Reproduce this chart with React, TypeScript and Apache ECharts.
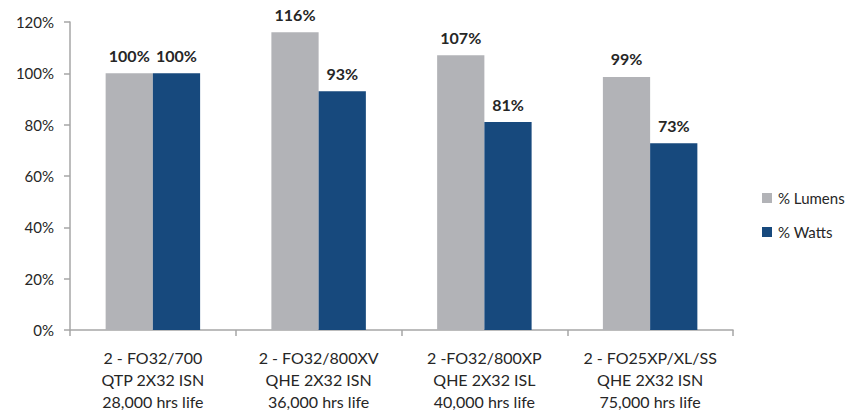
import React, { useEffect, useRef } from "react";
import * as echarts from "echarts";

const categories = [
  "2 - FO32/700\nQTP 2X32 ISN\n28,000 hrs life",
  "2 - FO32/800XV\nQHE 2X32 ISN\n36,000 hrs life",
  "2 -FO32/800XP\nQHE 2X32 ISL\n40,000 hrs life",
  "2 - FO25XP/XL/SS\nQHE 2X32 ISN\n75,000 hrs life",
];
const lumens = [100, 116, 107, 98.6];
const watts = [100, 93, 81, 72.8];
const lumensLabels = ["100%", "116%", "107%", "99%"];
const wattsLabels = ["100%", "93%", "81%", "73%"];
const yTicks = [0, 20, 40, 60, 80, 100, 120];

const FONT = "Lato";

export default function App() {
  const ref = useRef<HTMLDivElement>(null);
  useEffect(() => {
    if (!ref.current) return;
    const chart = echarts.init(ref.current, undefined, { renderer: "svg" });
    const labelStyle = {
      show: true,
      position: "top",
      distance: 10,
      fontFamily: FONT,
      fontSize: 16,
      fontWeight: "bold",
      color: "#262626",
    };
    chart.setOption({
      animation: false,
      textStyle: { fontFamily: FONT },
      grid: { left: 70, right: 120, top: 22, bottom: 78, containLabel: false },
      legend: {
        orient: "vertical",
        left: 757,
        top: 185,
        itemWidth: 10,
        itemHeight: 10,
        itemGap: 18,
        icon: "rect",
        textStyle: { fontFamily: FONT, fontSize: 15, lineHeight: 16, color: "#262626", padding: [0, 0, 0, 1] },
        data: ["% Lumens", "% Watts"],
      },
      xAxis: {
        type: "category",
        data: categories,
        axisLine: { lineStyle: { color: "#A6A6A6", width: 1.5 } },
        axisTick: { show: true, length: 6, alignWithLabel: false, lineStyle: { color: "#A6A6A6", width: 1.5 } },
        axisLabel: {
          fontFamily: FONT,
          fontSize: 16,
          color: "#262626",
          lineHeight: 22,
          margin: 16,
          interval: 0,
        },
      },
      yAxis: {
        type: "value",
        min: 0,
        max: 120,
        interval: 20,
        splitLine: { show: false },
        axisLine: { show: true, lineStyle: { color: "#A6A6A6", width: 1.5 } },
        axisTick: { show: true, length: 6, lineStyle: { color: "#A6A6A6", width: 1.5 } },
        axisLabel: {
          fontFamily: FONT,
          fontSize: 15,
          color: "#262626",
          margin: 16,
          formatter: (v: number) => (yTicks.includes(v) ? v + "%" : ""),
        },
      },
      series: [
        {
          name: "% Lumens",
          type: "bar",
          data: lumens,
          barGap: "0%",
          barCategoryGap: "43%",
          itemStyle: { color: "#B2B3B7" },
          label: { ...labelStyle, formatter: (p: any) => lumensLabels[p.dataIndex] },
        },
        {
          name: "% Watts",
          type: "bar",
          data: watts,
          barGap: "0%",
          barCategoryGap: "43%",
          itemStyle: { color: "#17497D" },
          label: { ...labelStyle, formatter: (p: any) => wattsLabels[p.dataIndex] },
        },
      ],
    });
    return () => chart.dispose();
  }, []);
  return <div ref={ref} style={{ width: 853, height: 412, position: "absolute", left: 0, top: 0 }} />;
}
